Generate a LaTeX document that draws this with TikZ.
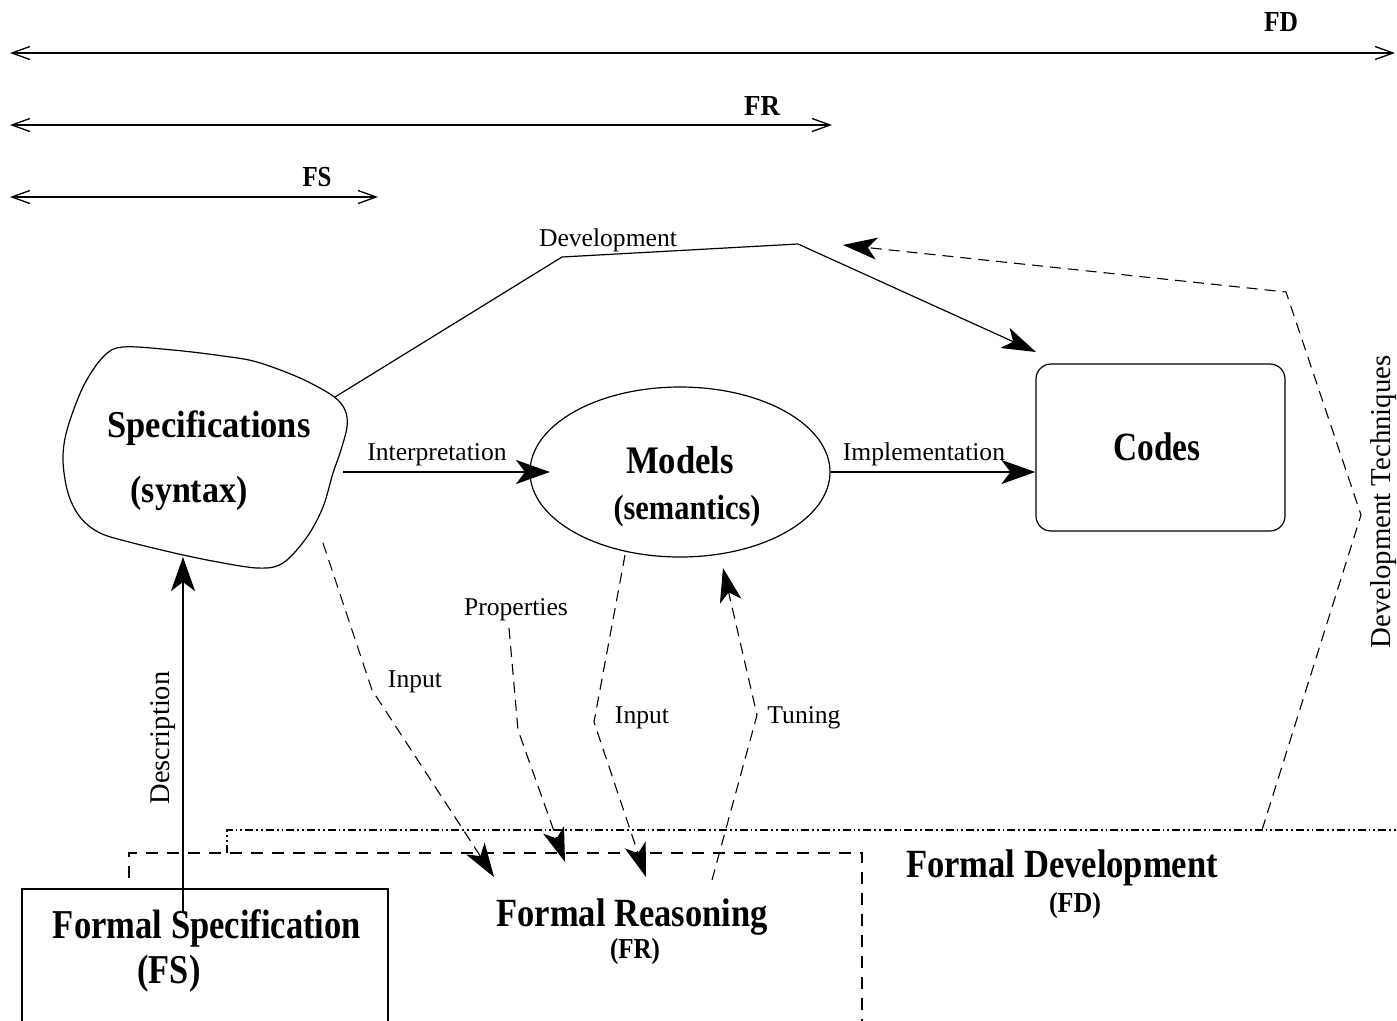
\documentclass[tikz,border=0pt]{standalone}
\usepackage{fontspec}
\setmainfont{Liberation Serif}
\usepackage{graphicx}
\usetikzlibrary{arrows.meta,shapes.geometric}
\newcommand{\bx}[3]{\resizebox{#1pt}{\height}{\fontsize{#2}{#2}\selectfont\bfseries #3}}
\tikzset{
  txt/.style={inner sep=0pt, anchor=base},
  lbl/.style={inner sep=0pt, anchor=base, font=\fontsize{25.6}{26}\selectfont},
  vlbl/.style={inner sep=0pt, anchor=center, rotate=90},
  thinl/.style={line width=1.2pt},
  mainarr/.style={line width=2.6pt, -{Stealth[length=34pt,width=24pt,inset=9pt]}},
  headarr/.style={-{Stealth[length=34pt,width=22pt,inset=9pt]}},
  dsh/.style={line width=1.1pt, dash pattern=on 11pt off 7pt},
  toparr/.style={line width=2.6pt, {Straight Barb[length=18pt,width=13pt,line width=1.3pt]}-{Straight Barb[length=18pt,width=13pt,line width=1.3pt]}},
  frbox/.style={line width=2pt, dash pattern=on 12pt off 9pt},
  fdline/.style={line width=1.8pt, dash pattern=on 8pt off 3pt on 1.8pt off 3pt on 1.8pt off 3pt},
}
\begin{document}
\begin{tikzpicture}[x=1pt,y=-1pt]
\useasboundingbox (0,0) rectangle (1397,1020);

% top range arrows
\coordinate (fdL) at (10,53);  \coordinate (fdR) at (1395,53);
\coordinate (frL) at (10,125); \coordinate (frR) at (832,125);
\coordinate (fsL) at (10,197); \coordinate (fsR) at (378,197);
\draw[toparr] (fdL) -- (fdR);
\draw[toparr] (frL) -- (frR);
\draw[toparr] (fsL) -- (fsR);
\node[txt] (fdl) at (1281,31) {\bx{34}{29}{FD}};
\node[txt] (frl) at (762,115) {\bx{36}{29}{FR}};
\node[txt] (fsl) at (317,186) {\bx{29}{29}{FS}};

% Specifications blob
\draw[thinl] plot[smooth cycle, tension=0.55] coordinates {
 (123,347) (173,350) (223,356) (257,362) (300,378) (333,396) (345,410) (347,427)
 (340,453) (333,473) (323,507) (307,537) (283,563) (257,568) (207,560) (183,555)
 (133,543) (100,533) (80,517) (68,493) (63,460) (67,430) (83,387) (103,357)};
\node[txt] (spec) at (209,437) {\bx{203}{38}{Specifications}};
\node[txt] (syn) at (189,502) {\bx{117}{38}{(syntax)}};
\coordinate (specNE) at (335,397);
\coordinate (specE) at (343,472);
\coordinate (specB) at (183,557);
\coordinate (specSE) at (323,543);

% Models ellipse
\node[draw, thinl, ellipse, minimum width=300pt, minimum height=170pt, inner sep=0pt] (models) at (680,472) {};
\node[txt] (modt) at (680,473) {\bx{108}{39}{Models}};
\node[txt] (semt) at (687,519) {\bx{147}{35}{(semantics)}};
\coordinate (modIn) at (550,472);
\coordinate (modB) at (625,555);
\coordinate (modTip) at (723,568);

% Codes
\node[draw, thinl, rounded corners=15pt, minimum width=249pt, minimum height=167pt, inner sep=0pt] (codes) at (1160.5,447.5) {};
\node[txt] (codt) at (1157,460) {\bx{87}{40}{Codes}};
\coordinate (devTip) at (1036,352);

% main arrows
\draw[mainarr] (specE) -- (modIn);
\node[lbl] (interp) at (437,460) {Interpretation};
\draw[mainarr] (models.east) -- (models.east -| codes.west);
\node[lbl] (impl) at (924,460) {Implementation};

% Development
\draw[thinl, headarr] (specNE) -- (562,257) -- (798,244) -- (devTip);
\node[lbl] (devl) at (608,246) {Development};

% Development Techniques
\coordinate (dtStart) at (1262,830);
\coordinate (dtTip) at (843,245);
\draw[dsh, headarr] (dtStart) -- (1361,515) -- (1286,292) -- (dtTip);
\node[vlbl, font=\fontsize{28.8}{29}\selectfont] (dtl) at (1384,502) {Development Techniques};

% bottom regions
\draw[line width=2pt] (22,1040) -- (22,889) -- (388,889) -- (388,1040);
\draw[frbox] (129,878) -- (129,853) -- (862,853) -- (862,1040);
\draw[fdline] (227,853) -- (227,830) -- (1400,830);

\node[txt] (fst) at (207,938) {\bx{308}{41}{Formal Specification}};
\node[txt] (fsa) at (169,983) {\bx{63}{41}{(FS)}};
\node[txt] (frt) at (632,926) {\bx{271}{40}{Formal Reasoning}};
\node[txt] (fra) at (635,958) {\bx{50}{29}{(FR)}};
\node[txt] (fdt) at (1062,877) {\bx{312}{40}{Formal Development}};
\node[txt] (fda) at (1075,912) {\bx{52}{29}{(FD)}};

% Description
\coordinate (descStart) at (183,912);
\draw[mainarr] (descStart) -- (specB);
\node[vlbl, font=\fontsize{28.5}{29}\selectfont] (descl) at (163,738) {Description};

% dashed reasoning arrows
\coordinate (frTip1) at (494,877);
\coordinate (frTip2) at (565,862);
\coordinate (frTip3) at (646,877);
\coordinate (frTun) at (712,880);
\draw[dsh, headarr] (specSE) -- (372,690) -- (frTip1);
\node[lbl] (in1) at (415,687) {Input};
\draw[dsh, headarr] (509,628) -- (518,730) -- (frTip2);
\node[lbl] (prop) at (516,615) {Properties};
\draw[dsh, headarr] (modB) -- (594,722) -- (frTip3);
\node[lbl] (in2) at (642,723) {Input};
\draw[dsh, headarr] (frTun) -- (757,715) -- (modTip);
\node[lbl] (tun) at (804,723) {Tuning};
\end{tikzpicture}
\end{document}
